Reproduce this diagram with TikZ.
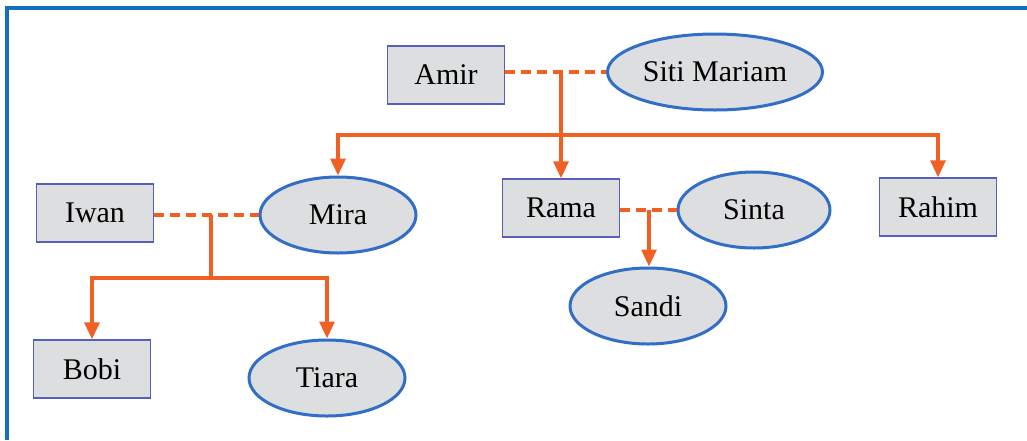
\documentclass[tikz,border=0pt]{standalone}
\usepackage{fontspec}
\setmainfont{Liberation Serif}
\usetikzlibrary{arrows.meta,shapes.geometric}
\definecolor{frameblue}{RGB}{20,112,186}
\definecolor{boxgray}{RGB}{221,222,224}
\definecolor{boxline}{RGB}{86,96,186}
\definecolor{ovalline}{RGB}{48,110,200}
\definecolor{linkorange}{RGB}{240,96,36}
\begin{document}
\begin{tikzpicture}[x=1pt,y=-1pt,
  person/.style={font=\fontsize{30}{35}\selectfont,fill=boxgray,inner sep=0},
  male/.style={person,draw=boxline,line width=1.5pt,minimum width=117pt,minimum height=58pt},
  female/.style={person,ellipse,draw=ovalline,line width=3pt,minimum height=76pt},
  wed/.style={linkorange,line width=3.2pt,dash pattern=on 10pt off 6pt},
  kid/.style={linkorange,line width=3.2pt,-{Triangle[width=15pt,length=17pt]}}]
  \useasboundingbox (0,0) rectangle (1027,440);
  \draw[frameblue,line width=3.6pt] (7,440) -- (7,8) -- (1027,8);
  % first generation
  \node[male] (amir) at (446,75) {Amir};
  \node[female,minimum width=215pt] (siti) at (715,72) {Siti Mariam};
  % second generation
  \node[female,minimum width=156pt] (mira) at (338,215) {Mira};
  \node[male] (rama) at (561,208) {Rama};
  \node[female,minimum width=152pt] (sinta) at (754,210) {Sinta};
  \node[male] (rahim) at (938,207) {Rahim};
  \node[male] (iwan) at (95,213) {Iwan};
  % third generation
  \node[male] (bobi) at (92,369) {Bobi};
  \node[female,minimum width=156pt] (tiara) at (327,378) {Tiara};
  \node[female,minimum width=156pt] (sandi) at (648,306) {Sandi};
  % marriages
  \draw[wed] (amir.east |- siti) -- (siti);
  \draw[wed] (iwan.east |- mira) -- (mira);
  \draw[wed] (rama.east |- sinta) -- (sinta);
  \coordinate (m1) at (561,72);
  \coordinate (m2) at (211,215);
  \coordinate (m3) at (649,210);
  \coordinate (b1) at (561,135);
  \coordinate (b2) at (211,278);
  % children
  \draw[kid] (m1) -- (rama);
  \draw[kid] (b1) -| (mira);
  \draw[kid] (b1) -| (rahim);
  \draw[linkorange,line width=3.2pt] (m2) -- (b2);
  \draw[kid] (b2) -| (bobi);
  \draw[kid] (b2) -| (tiara);
  \draw[kid] (m3) -- (m3 |- sandi.north);
\end{tikzpicture}
\end{document}
